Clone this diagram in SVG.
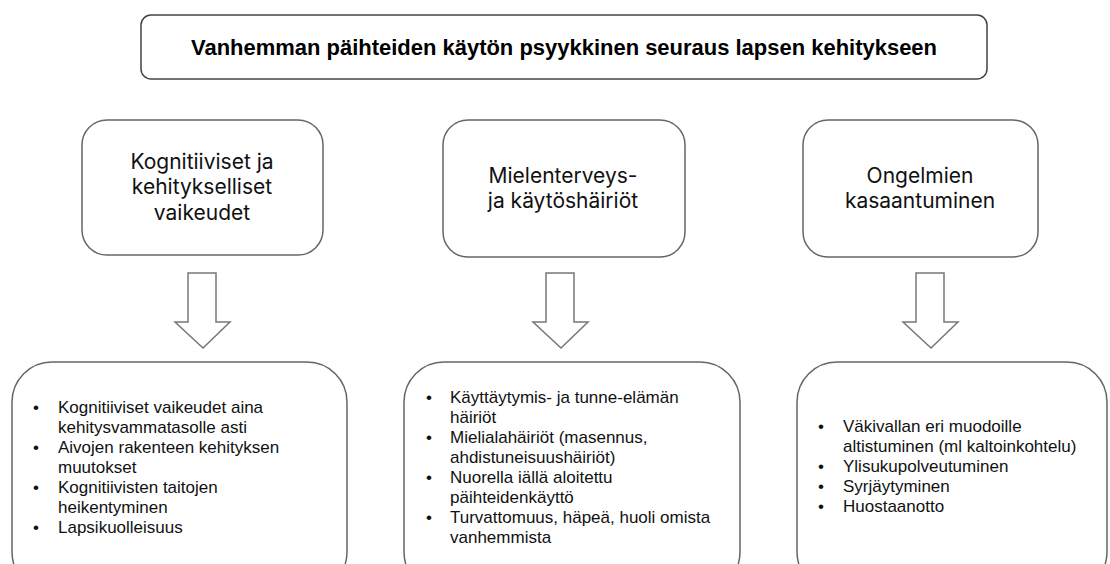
<svg xmlns="http://www.w3.org/2000/svg" width="1110" height="564" viewBox="0 0 1110 564">
<style>
.box{fill:#fff;stroke:#666;stroke-width:1.5}
.title{fill:#fff;stroke:#444;stroke-width:1.5}
.arrow{fill:#fff;stroke:#777;stroke-width:1.5;stroke-linejoin:miter}
.tt{font-family:"Liberation Sans",Arial,sans-serif;font-weight:bold;font-size:22px;fill:#000}
.mid{font-family:Inter,"Liberation Sans",Arial,sans-serif;font-size:21px;fill:#111;text-anchor:middle}
.li{font-family:"Liberation Sans",Arial,sans-serif;font-size:17px;fill:#111}
</style>
<rect width="1110" height="564" fill="#fff"/>
<g id="title">
<rect class="title" x="141" y="15" width="846" height="64" rx="10"/>
<text class="tt" x="564" y="55" text-anchor="middle" textLength="746" lengthAdjust="spacingAndGlyphs">Vanhemman päihteiden käytön psyykkinen seuraus lapsen kehitykseen</text>
</g>
<g id="cat1">
<rect class="box" x="82" y="120" width="241" height="135" rx="25"/>
<text class="mid" x="202" y="169">Kognitiiviset ja</text>
<text class="mid" x="202" y="194">kehitykselliset</text>
<text class="mid" x="202" y="220">vaikeudet</text>
</g>
<g id="cat2">
<rect class="box" x="443" y="120" width="242" height="137" rx="25"/>
<text class="mid" x="563" y="183">Mielenterveys-</text>
<text class="mid" x="563" y="208">ja käytöshäiriöt</text>
</g>
<g id="cat3">
<rect class="box" x="803" y="120" width="235" height="137" rx="25"/>
<text class="mid" x="920" y="183">Ongelmien</text>
<text class="mid" x="920" y="208">kasaantuminen</text>
</g>
<g id="connectors">
<path class="arrow" d="M188,273 H216 V322 H230 L203,348 L175,322 H188 Z"/>
<path class="arrow" d="M546,273 H574 V322 H588 L561,348 L533,322 H546 Z"/>
<path class="arrow" d="M916,273 H944 V322 H958 L931,348 L903,322 H916 Z"/>
</g>
<g id="list1">
<rect class="box" x="12" y="362" width="335" height="230" rx="40"/>
<g class="li">
<text x="33" y="413">•</text><text x="58" y="413">Kognitiiviset vaikeudet aina</text>
<text x="58" y="433">kehitysvammatasolle asti</text>
<text x="33" y="453">•</text><text x="58" y="453">Aivojen rakenteen kehityksen</text>
<text x="58" y="473">muutokset</text>
<text x="33" y="493">•</text><text x="58" y="493">Kognitiivisten taitojen</text>
<text x="58" y="513">heikentyminen</text>
<text x="33" y="533">•</text><text x="58" y="533">Lapsikuolleisuus</text>
</g>
</g>
<g id="list2">
<rect class="box" x="404" y="362" width="336" height="230" rx="40"/>
<g class="li">
<text x="426" y="403">•</text><text x="450" y="403">Käyttäytymis- ja tunne-elämän</text>
<text x="450" y="423">häiriöt</text>
<text x="426" y="443">•</text><text x="450" y="443">Mielialahäiriöt (masennus,</text>
<text x="450" y="463">ahdistuneisuushäiriöt)</text>
<text x="426" y="483">•</text><text x="450" y="483">Nuorella iällä aloitettu</text>
<text x="450" y="503">päihteidenkäyttö</text>
<text x="426" y="523">•</text><text x="450" y="523">Turvattomuus, häpeä, huoli omista</text>
<text x="450" y="543">vanhemmista</text>
</g>
</g>
<g id="list3">
<rect class="box" x="797" y="362" width="310" height="230" rx="40"/>
<g class="li">
<text x="818" y="432">•</text><text x="843" y="432">Väkivallan eri muodoille</text>
<text x="843" y="452">altistuminen (ml kaltoinkohtelu)</text>
<text x="818" y="472">•</text><text x="843" y="472">Ylisukupolveutuminen</text>
<text x="818" y="492">•</text><text x="843" y="492">Syrjäytyminen</text>
<text x="818" y="512">•</text><text x="843" y="512">Huostaanotto</text>
</g>
</g>
</svg>
